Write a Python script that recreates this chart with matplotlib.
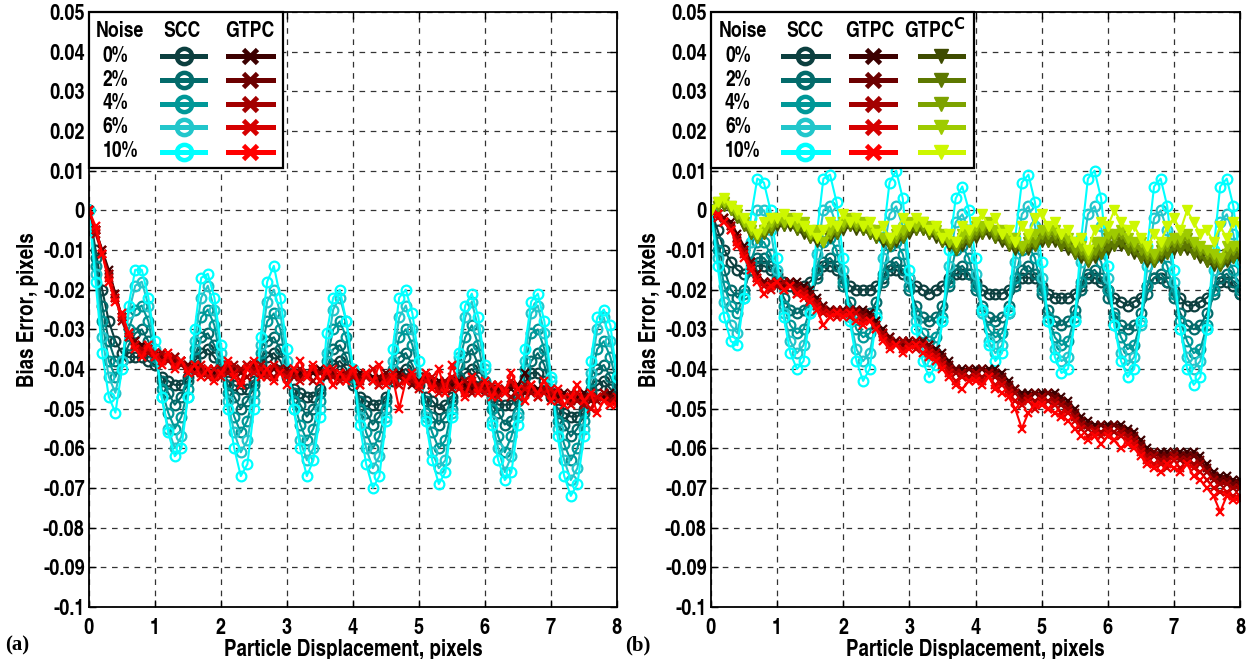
import numpy as np
import matplotlib
matplotlib.use('Agg')
import matplotlib.pyplot as plt
from matplotlib.patches import Rectangle
from matplotlib.lines import Line2D

# ---------------- data (bias error in 1e-3 pixels) ----------------
displacement = np.linspace(0, 8, 81)
noise_levels = ['0%', '2%', '4%', '6%', '10%']

# Panel (a) SCC
a_scc_0 = [0, -10, -20, -28, -33, -36, -37, -37, -37, -38,
           -39, -42, -43, -44, -44, -42, -38, -36, -35, -37,
           -40, -43, -44, -45, -45, -43, -39, -37, -36, -38,
           -42, -45, -46, -47, -47, -45, -41, -39, -38, -40,
           -44, -47, -48, -49, -49, -47, -43, -41, -40, -42,
           -44, -47, -48, -50, -49, -47, -43, -41, -40, -42,
           -45, -47, -49, -49, -49, -47, -44, -41, -41, -43,
           -47, -50, -51, -52, -52, -50, -46, -44, -43, -45, -47]
a_scc_2 = [0, -12, -24, -33, -38, -38, -34, -31, -30, -33,
           -38, -43, -46, -49, -47, -43, -37, -32, -31, -34,
           -39, -44, -47, -50, -48, -44, -38, -33, -32, -35,
           -41, -46, -49, -52, -50, -46, -40, -35, -34, -37,
           -43, -48, -51, -54, -52, -48, -42, -37, -36, -39,
           -43, -48, -52, -54, -52, -48, -42, -37, -35, -39,
           -44, -48, -51, -54, -53, -48, -42, -38, -36, -39,
           -46, -51, -54, -57, -55, -51, -45, -40, -39, -42, -45]
a_scc_4 = [0, -14, -28, -38, -42, -38, -30, -25, -24, -28,
           -37, -45, -51, -55, -52, -45, -35, -27, -25, -29,
           -38, -46, -52, -56, -53, -46, -36, -28, -26, -30,
           -40, -48, -54, -58, -55, -48, -38, -30, -28, -32,
           -42, -50, -56, -60, -57, -50, -40, -32, -30, -34,
           -42, -51, -56, -60, -58, -50, -39, -32, -29, -34,
           -43, -50, -57, -61, -57, -51, -40, -31, -30, -35,
           -45, -53, -59, -63, -60, -53, -43, -35, -33, -37, -44]
a_scc_6 = [0, -16, -32, -42, -46, -38, -26, -19, -18, -24,
           -35, -47, -55, -60, -57, -47, -33, -22, -19, -25,
           -36, -48, -56, -61, -58, -48, -34, -23, -20, -26,
           -38, -50, -58, -63, -60, -50, -36, -25, -22, -28,
           -40, -52, -60, -65, -62, -52, -38, -27, -24, -30,
           -41, -52, -61, -65, -63, -51, -37, -27, -23, -30,
           -40, -53, -60, -66, -62, -52, -38, -26, -24, -31,
           -43, -55, -63, -68, -65, -55, -41, -30, -27, -33, -42]
a_scc_10 = [0, -18, -36, -47, -51, -40, -24, -15, -15, -22,
            -33, -47, -56, -62, -60, -47, -30, -17, -16, -22,
            -34, -50, -60, -67, -64, -50, -32, -18, -14, -22,
            -35, -50, -60, -67, -63, -52, -31, -22, -20, -28,
            -40, -54, -64, -70, -67, -53, -35, -22, -20, -26,
            -38, -53, -63, -69, -66, -52, -36, -24, -21, -27,
            -39, -54, -63, -68, -66, -54, -35, -23, -21, -28,
            -42, -57, -67, -72, -69, -57, -38, -27, -25, -29, -42]

# Panel (a) GTPC
a_gtpc_0 = [0, -5, -10, -15, -21, -27, -31, -33, -34, -35,
            -36, -36, -37, -37, -38, -39, -40, -40, -40, -41,
            -40, -40, -41, -40, -39, -40, -41, -40, -40, -41,
            -41, -40, -41, -42, -41, -40, -41, -42, -41, -41,
            -42, -41, -42, -42, -43, -42, -42, -41, -43, -43,
            -43, -42, -44, -43, -44, -44, -43, -44, -45, -44,
            -45, -44, -45, -46, -45, -44, -41, -45, -45, -46,
            -46, -47, -46, -47, -47, -46, -47, -48, -47, -46, -47]
a_gtpc_2 = [0, -5, -10, -16, -21, -27, -31, -33, -35, -35,
            -36, -37, -37, -38, -38, -39, -39, -40, -41, -40,
            -41, -40, -40, -41, -40, -39, -41, -41, -40, -40,
            -40, -41, -42, -41, -40, -41, -42, -41, -42, -41,
            -41, -42, -42, -43, -42, -41, -43, -42, -42, -44,
            -43, -43, -43, -44, -45, -43, -44, -45, -44, -45,
            -44, -45, -46, -45, -44, -45, -46, -45, -46, -45,
            -47, -46, -47, -48, -46, -47, -48, -47, -46, -47, -48]
a_gtpc_4 = [0, -6, -11, -16, -22, -28, -32, -34, -35, -36,
            -37, -36, -38, -37, -39, -40, -39, -41, -40, -42,
            -40, -41, -39, -40, -42, -40, -39, -41, -42, -40,
            -41, -42, -40, -41, -43, -41, -40, -42, -43, -41,
            -42, -43, -41, -43, -44, -42, -43, -44, -42, -43,
            -44, -42, -44, -45, -43, -45, -44, -43, -46, -44,
            -45, -46, -44, -46, -47, -45, -44, -46, -47, -45,
            -46, -48, -47, -46, -48, -49, -47, -48, -46, -48, -48]
a_gtpc_6 = [0, -5, -11, -17, -22, -27, -32, -34, -36, -35,
            -36, -38, -37, -39, -38, -40, -41, -39, -42, -40,
            -42, -39, -41, -43, -39, -41, -40, -42, -39, -41,
            -42, -40, -43, -41, -40, -43, -41, -40, -43, -42,
            -41, -44, -42, -40, -44, -43, -41, -44, -43, -42,
            -45, -43, -42, -46, -44, -42, -45, -46, -43, -45,
            -46, -44, -47, -45, -43, -47, -45, -44, -47, -46,
            -45, -48, -47, -49, -46, -48, -50, -47, -48, -49, -47]
a_gtpc_10 = [0, -4, -11, -18, -23, -26, -31, -35, -37, -34,
             -37, -39, -36, -40, -38, -41, -39, -42, -40, -43,
             -41, -38, -42, -44, -40, -38, -42, -40, -43, -41,
             -44, -40, -38, -42, -39, -43, -40, -44, -41, -43,
             -40, -44, -41, -43, -39, -44, -42, -50, -43, -41,
             -44, -41, -45, -40, -46, -39, -44, -47, -42, -46,
             -43, -47, -44, -46, -41, -45, -48, -44, -46, -43,
             -48, -45, -49, -47, -44, -48, -46, -51, -48, -49, -49]

# Panel (b) SCC
b_scc_0 = [0, -5, -10, -13, -15, -16, -15, -14, -14, -15,
           -16, -18, -19, -20, -19, -18, -16, -14, -14, -15,
           -17, -19, -20, -20, -20, -19, -17, -15, -15, -16,
           -17, -19, -20, -21, -20, -19, -17, -16, -16, -16,
           -18, -20, -21, -21, -21, -20, -18, -17, -17, -17,
           -19, -21, -22, -22, -22, -21, -19, -17, -17, -18,
           -20, -22, -23, -24, -23, -22, -19, -17, -17, -18,
           -20, -22, -24, -24, -23, -22, -20, -18, -18, -19, -21]
b_scc_2 = [0, -8, -15, -20, -22, -20, -15, -12, -12, -14,
           -18, -22, -25, -26, -25, -22, -17, -13, -12, -14,
           -19, -23, -26, -27, -26, -23, -18, -14, -13, -15,
           -20, -24, -27, -28, -27, -24, -19, -15, -14, -16,
           -20, -24, -27, -28, -27, -24, -19, -15, -14, -16,
           -21, -25, -28, -29, -28, -25, -20, -16, -15, -17,
           -22, -26, -29, -30, -29, -26, -21, -17, -16, -18,
           -22, -26, -29, -30, -29, -26, -21, -17, -16, -18, -21]
b_scc_4 = [0, -10, -19, -24, -26, -21, -13, -8, -8, -11,
           -17, -24, -29, -31, -30, -25, -15, -8, -7, -10,
           -18, -25, -30, -32, -31, -26, -16, -9, -8, -11,
           -19, -26, -31, -33, -32, -27, -18, -10, -9, -12,
           -19, -25, -30, -32, -31, -26, -17, -10, -9, -12,
           -20, -27, -32, -34, -33, -27, -18, -11, -10, -13,
           -20, -27, -32, -35, -34, -28, -19, -12, -11, -14,
           -21, -28, -33, -36, -35, -29, -20, -13, -12, -15, -20]
b_scc_6 = [0, -12, -23, -29, -31, -22, -8, 0, 0, -5,
           -15, -26, -33, -36, -34, -26, -11, 0, 1, -4,
           -15, -27, -35, -38, -36, -27, -12, -1, 1, -4,
           -17, -28, -35, -38, -36, -28, -14, -3, -1, -5,
           -16, -26, -33, -36, -34, -26, -13, -1, 1, -4,
           -17, -28, -35, -38, -37, -28, -13, -1, 1, -4,
           -17, -29, -36, -39, -37, -29, -14, -2, 0, -5,
           -18, -30, -37, -40, -38, -30, -15, -3, -1, -6, -17]
b_scc_10 = [0, -14, -27, -33, -34, -22, -2, 8, 7, 0,
            -12, -27, -36, -40, -38, -26, -6, 8, 9, 2,
            -12, -28, -38, -43, -40, -27, -7, 7, 10, 3,
            -15, -30, -38, -42, -39, -28, -10, 3, 6, 0,
            -12, -25, -34, -38, -36, -25, -7, 7, 9, 2,
            -13, -28, -37, -41, -40, -28, -7, 8, 10, 3,
            -14, -29, -38, -42, -40, -28, -9, 6, 8, 1,
            -15, -30, -40, -44, -42, -30, -10, 6, 8, 1, -13]

# Panel (b) GTPC
b_gtpc_0 = [0, -1, -2, -3, -6, -9, -13, -16, -18, -18,
            -18, -18, -18, -18, -19, -20, -22, -24, -25, -25,
            -25, -25, -25, -25, -26, -28, -30, -32, -33, -33,
            -33, -33, -33, -34, -35, -36, -38, -40, -40, -40,
            -40, -40, -40, -40, -41, -43, -45, -46, -46, -46,
            -46, -46, -46, -47, -48, -50, -52, -53, -54, -54,
            -54, -54, -54, -55, -56, -58, -60, -61, -61, -61,
            -61, -61, -61, -61, -62, -64, -66, -67, -67, -68, -68]
b_gtpc_2 = [0, -1, -2, -4, -7, -10, -13, -16, -18, -19,
            -18, -19, -18, -19, -20, -21, -23, -24, -25, -26,
            -25, -26, -25, -26, -27, -29, -31, -32, -33, -34,
            -33, -34, -33, -34, -36, -37, -39, -40, -41, -40,
            -41, -40, -41, -41, -42, -44, -45, -47, -47, -46,
            -47, -46, -47, -48, -49, -51, -53, -54, -55, -54,
            -55, -54, -55, -56, -57, -59, -61, -61, -62, -62,
            -61, -62, -62, -62, -63, -65, -67, -68, -68, -69, -69]
b_gtpc_4 = [0, -1, -3, -4, -7, -10, -14, -17, -19, -18,
            -19, -18, -19, -20, -20, -22, -23, -25, -26, -25,
            -26, -25, -26, -27, -28, -29, -31, -33, -34, -33,
            -34, -33, -34, -35, -36, -38, -40, -41, -41, -42,
            -41, -42, -41, -42, -43, -45, -46, -48, -47, -48,
            -47, -48, -48, -49, -50, -52, -54, -55, -55, -56,
            -55, -56, -56, -57, -58, -60, -62, -62, -63, -63,
            -62, -63, -63, -64, -64, -66, -68, -69, -69, -70, -70]
b_gtpc_6 = [0, -2, -3, -5, -8, -11, -14, -17, -19, -20,
            -18, -20, -19, -21, -21, -22, -24, -26, -26, -27,
            -26, -27, -26, -28, -28, -30, -32, -34, -34, -35,
            -34, -35, -34, -36, -37, -39, -41, -43, -42, -43,
            -42, -43, -42, -44, -44, -46, -48, -49, -48, -50,
            -48, -50, -49, -51, -51, -53, -55, -57, -56, -57,
            -56, -58, -57, -58, -59, -61, -63, -64, -64, -65,
            -63, -65, -64, -65, -66, -68, -70, -71, -71, -72, -72]
b_gtpc_10 = [0, -1, -3, -5, -9, -12, -15, -18, -21, -19,
             -18, -20, -19, -21, -22, -23, -25, -29, -27, -26,
             -27, -26, -28, -29, -28, -30, -33, -35, -34, -36,
             -35, -34, -36, -37, -38, -40, -42, -44, -45, -43,
             -43, -44, -42, -45, -46, -47, -50, -55, -51, -49,
             -49, -50, -51, -52, -53, -55, -57, -58, -57, -59,
             -57, -58, -60, -59, -60, -62, -64, -65, -66, -64,
             -65, -66, -64, -67, -68, -70, -72, -76, -72, -73, -73]

# Panel (b) GTPC^C
b_gtpcc_0 = [0, 1, 1, 0, -2, -4, -6, -7, -6, -5,
             -4, -4, -4, -5, -6, -7, -8, -8, -7, -6,
             -5, -4, -5, -5, -6, -7, -8, -9, -8, -7,
             -6, -5, -5, -6, -7, -8, -9, -10, -9, -8,
             -7, -6, -6, -7, -8, -9, -10, -10, -10, -9,
             -8, -8, -8, -9, -10, -11, -12, -13, -12, -11,
             -10, -9, -9, -10, -11, -12, -13, -13, -12, -11,
             -10, -10, -10, -11, -12, -13, -14, -14, -13, -12, -12]
b_gtpcc_2 = [0, 1, 1, 0, -2, -4, -6, -7, -6, -5,
             -3, -4, -3, -5, -5, -7, -7, -8, -6, -6,
             -4, -4, -4, -5, -6, -7, -7, -9, -7, -7,
             -5, -5, -5, -6, -6, -8, -8, -10, -8, -8,
             -6, -6, -5, -7, -7, -9, -9, -10, -9, -9,
             -7, -8, -7, -9, -9, -11, -11, -13, -11, -11,
             -9, -9, -8, -10, -10, -12, -12, -13, -11, -11,
             -9, -10, -9, -11, -11, -13, -13, -14, -12, -12, -11]
b_gtpcc_4 = [0, 1, 2, 0, -1, -3, -5, -7, -5, -4,
             -3, -3, -3, -4, -4, -6, -6, -8, -6, -5,
             -4, -3, -4, -4, -5, -6, -7, -8, -7, -6,
             -4, -4, -4, -5, -6, -7, -8, -9, -7, -7,
             -5, -5, -4, -6, -6, -8, -8, -10, -8, -8,
             -6, -6, -6, -7, -8, -10, -10, -12, -10, -9,
             -7, -7, -6, -8, -9, -10, -11, -12, -10, -9,
             -8, -8, -7, -9, -10, -11, -12, -13, -11, -10, -10]
b_gtpcc_6 = [0, 2, 2, 1, -1, -3, -5, -6, -5, -3,
             -2, -3, -2, -4, -3, -6, -5, -8, -5, -4,
             -3, -2, -3, -3, -5, -5, -7, -7, -6, -5,
             -3, -4, -3, -4, -5, -6, -8, -8, -6, -6,
             -4, -4, -3, -5, -5, -7, -7, -9, -7, -6,
             -5, -5, -5, -6, -7, -8, -9, -11, -8, -8,
             -6, -6, -5, -7, -8, -8, -10, -11, -9, -8,
             -7, -7, -6, -8, -9, -10, -11, -12, -9, -9, -9]
b_gtpcc_10 = [0, 2, 3, 1, 0, -2, -4, -6, -3, -2,
              -2, -1, -3, -2, -4, -5, -7, -5, -3, -4,
              -1, -3, -2, -4, -3, -6, -4, -7, -5, -2,
              -4, -2, -3, -5, -4, -7, -6, -8, -4, -5,
              -3, -1, -4, -2, -6, -5, -8, -4, -6, -2,
              -1, -4, -3, -6, -5, -8, -7, -10, -5, -3,
              -4, 0, -3, -5, -4, -7, -9, -6, -8, -4,
              -2, -5, 0, -3, -6, -5, -8, -4, -7, -3, -4]

a_scc = [a_scc_0, a_scc_2, a_scc_4, a_scc_6, a_scc_10]
a_gtpc = [a_gtpc_0, a_gtpc_2, a_gtpc_4, a_gtpc_6, a_gtpc_10]
b_scc = [b_scc_0, b_scc_2, b_scc_4, b_scc_6, b_scc_10]
b_gtpc = [b_gtpc_0, b_gtpc_2, b_gtpc_4, b_gtpc_6, b_gtpc_10]
b_gtpcc = [b_gtpcc_0, b_gtpcc_2, b_gtpcc_4, b_gtpcc_6, b_gtpcc_10]

y_ticks = [0.05, 0.04, 0.03, 0.02, 0.01, 0, -0.01, -0.02, -0.03, -0.04,
           -0.05, -0.06, -0.07, -0.08, -0.09, -0.1]
y_tick_labels = ['0.05', '0.04', '0.03', '0.02', '0.01', '0', '-0.01', '-0.02',
                 '-0.03', '-0.04', '-0.05', '-0.06', '-0.07', '-0.08', '-0.09', '-0.1']
x_ticks = [0, 1, 2, 3, 4, 5, 6, 7, 8]

# ---------------- style ----------------
scc_colors = ['#0c3f3f', '#036b6b', '#009898', '#22c6cb', '#00ffff']
gtpc_colors = ['#3c0000', '#6c0000', '#a30000', '#d60000', '#ff0000']
gtpcc_colors = ['#3e4b00', '#5d7800', '#7da200', '#9ecb00', '#cdf700']

FONT = ['TeX Gyre Heros Cn', 'Liberation Sans', 'DejaVu Sans']
SERIF = ['Liberation Serif', 'DejaVu Serif']
plt.rcParams['font.family'] = FONT
plt.rcParams['font.weight'] = 'bold'

fig = plt.figure(figsize=(12.49, 6.59), dpi=100)
ax_a = fig.add_axes([89 / 1249, 1 - 607 / 659, 528 / 1249, 595 / 659])
ax_b = fig.add_axes([711 / 1249, 1 - 607 / 659, 529 / 1249, 595 / 659])

SCALE = 1000.0
TICK_FS = 16
LABEL_FS = 16.5
LEG_FS = 15.5


def style_axes(ax):
    ax.set_xlim(0, 8)
    ax.set_ylim(-0.1, 0.05)
    ax.set_xticks(x_ticks)
    ax.set_xticklabels([str(t) for t in x_ticks])
    ax.set_yticks(y_ticks)
    ax.set_yticklabels(y_tick_labels)
    ax.tick_params(direction='in', length=5, width=1, top=True, right=True,
                   labelsize=TICK_FS)
    ax.tick_params(axis='x', pad=8)
    ax.tick_params(axis='y', pad=3)
    for lab in ax.get_xticklabels() + ax.get_yticklabels():
        lab.set_fontweight('bold')
    ax.grid(True, color='0.2', linestyle=(0, (4.5, 4.5)), linewidth=0.9)
    for sp in ax.spines.values():
        sp.set_linewidth(1.3)
    ax.set_xlabel('Particle Displacement, pixels', fontsize=LABEL_FS,
                  fontweight='bold', labelpad=0)
    ax.set_ylabel('Bias Error, pixels', fontsize=LABEL_FS, fontweight='bold',
                  labelpad=3)


def plot_scc(ax, series):
    for vals, c in zip(series, scc_colors):
        ax.plot(displacement, np.array(vals) / SCALE, color=c, lw=1.5,
                marker='o', ms=7, mfc='none', mec=c, mew=1.6)


def plot_gtpc(ax, series):
    for vals, c in zip(series, gtpc_colors):
        ax.plot(displacement, np.array(vals) / SCALE, color=c, lw=1.5,
                marker='x', ms=6, mew=1.6)


def plot_gtpcc(ax, series):
    for vals, c in zip(series, gtpcc_colors):
        ax.plot(displacement, np.array(vals) / SCALE, color=c, lw=1.5,
                marker='v', ms=7, mfc=c, mec=c)


def legend_table(ax, box_w, noise_x, headers, header_x, sample_spans, kinds):
    z = 20
    ax.add_patch(Rectangle((0, 0.738), box_w, 0.262, transform=ax.transAxes,
                           facecolor='white', edgecolor='black', lw=1.6,
                           zorder=z, clip_on=False))
    ax.text(noise_x, 0.968, 'Noise', transform=ax.transAxes, ha='center',
            va='center', fontsize=LEG_FS, fontweight='bold', zorder=z + 1)
    for h, hx in zip(headers, header_x):
        ax.text(hx, 0.968, h, transform=ax.transAxes, ha='center',
                va='center', fontsize=LEG_FS, fontweight='bold', zorder=z + 1)
    row_y = [0.926, 0.885, 0.846, 0.806, 0.765]
    for i, (lab, ry) in enumerate(zip(noise_levels, row_y)):
        ax.text(0.0265, ry, lab, transform=ax.transAxes, ha='left',
                va='center', fontsize=LEG_FS, fontweight='bold', zorder=z + 1)
        for (x0, x1), kind in zip(sample_spans, kinds):
            if kind == 'scc':
                c = scc_colors[i]
                kw = dict(marker='o', ms=11, mfc='none', mec=c, mew=3.2)
            elif kind == 'gtpc':
                c = gtpc_colors[i]
                kw = dict(marker='x', ms=10, mew=3.4)
            else:
                c = gtpcc_colors[i]
                kw = dict(marker='v', ms=10, mfc=c, mec=c)
            ax.add_line(Line2D([x0, x1], [ry, ry], color=c, lw=3.6,
                               transform=ax.transAxes, zorder=z + 1))
            ax.add_line(Line2D([(x0 + x1) / 2], [ry], color=c, lw=0,
                               transform=ax.transAxes, zorder=z + 2, **kw))


# Panel (a)
plot_scc(ax_a, a_scc)
plot_gtpc(ax_a, a_gtpc)
style_axes(ax_a)
legend_table(ax_a, 0.367, 0.059, ['SCC', 'GTPC'], [0.176, 0.305],
             [(0.138, 0.220), (0.263, 0.348)], ['scc', 'gtpc'])

# Panel (b)
plot_scc(ax_b, b_scc)
plot_gtpc(ax_b, b_gtpc)
plot_gtpcc(ax_b, b_gtpcc)
style_axes(ax_b)
legend_table(ax_b, 0.497, 0.0605, ['SCC', 'GTPC', 'GTPC$^{\\mathbf{C}}$'],
             [0.178, 0.300, 0.423],
             [(0.136, 0.221), (0.265, 0.348), (0.395, 0.476)],
             ['scc', 'gtpc', 'gtpcc'])

fig.text(5 / 1249, 1 - 645 / 659, '(a)', family=SERIF,
         fontweight='bold', fontsize=15, va='center', ha='left')
fig.text(625 / 1249, 1 - 645 / 659, '(b)', family=SERIF,
         fontweight='bold', fontsize=15, va='center', ha='left')

fig.savefig('out.png', dpi=100)
